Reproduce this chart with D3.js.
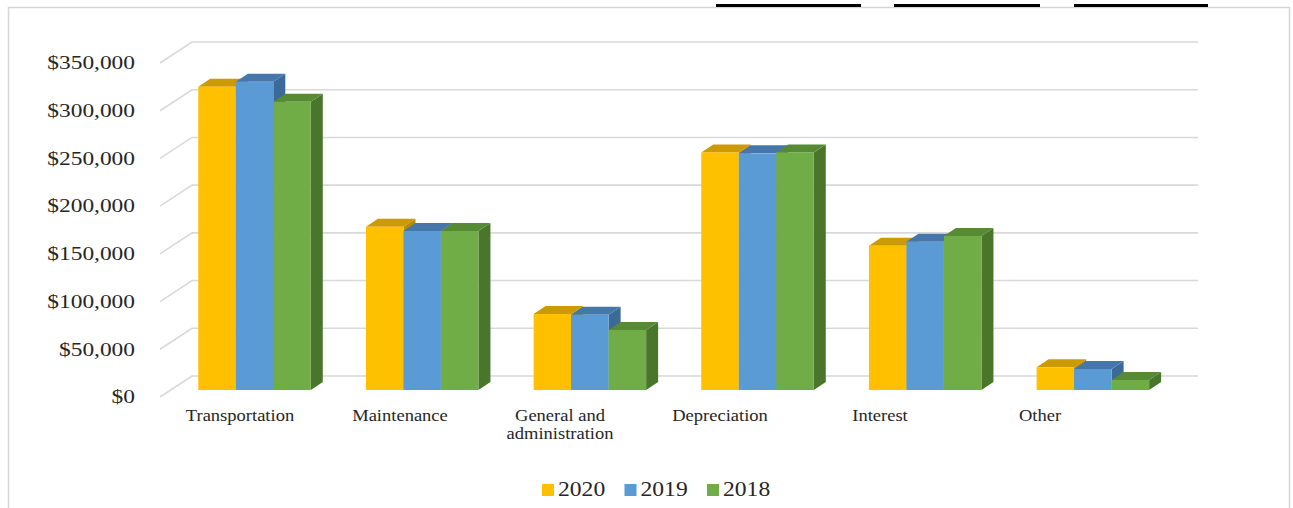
<!DOCTYPE html>
<html>
<head>
<meta charset="utf-8">
<script src="https://cdn.jsdelivr.net/npm/d3@7"></script>
<style>
  html, body { margin: 0; padding: 0; background: #fff; }
  svg { display: block; }
  text { font-family: "Liberation Serif", "Times New Roman", serif; fill: #262626; }
</style>
</head>
<body>
<svg id="chart" width="1293" height="508"></svg>
<script>
// Operating expenses by category, three fiscal years
const categories = ["Transportation", "Maintenance", "General and administration", "Depreciation", "Interest", "Other"];
const categoryLines = [["Transportation"], ["Maintenance"], ["General and", "administration"], ["Depreciation"], ["Interest"], ["Other"]];
const years = ["2020", "2019", "2018"];
const values2020 = [317800, 171000, 79600, 249000, 151200, 23800];
const values2019 = [323000, 166600, 78800, 248000, 155400, 22000];
const values2018 = [302100, 166600, 62900, 249000, 161400, 10500];
const tickValues = [0, 50000, 100000, 150000, 200000, 250000, 300000, 350000];

const seriesValues = { "2020": values2020, "2019": values2019, "2018": values2018 };
const faceColors = {
  "2020": { front: "#FFC000", top: "#CC9A02", side: "#B88A00" },
  "2019": { front: "#5B9BD5", top: "#4577AA", side: "#3C6A98" },
  "2018": { front: "#70AD47", top: "#578A35", side: "#4A762C" }
};

const svg = d3.select("#chart");

// Chart frame
svg.append("rect")
  .attr("x", 8.5).attr("y", 7.5).attr("width", 1281).attr("height", 560)
  .attr("fill", "#fff").attr("stroke", "#D6D6D6").attr("stroke-width", 1.5);

// Dark rules along the top edge
[[716, 861], [894, 1040], [1074, 1208]].forEach(([a, b]) => {
  svg.append("rect").attr("x", a).attr("y", 4).attr("width", b - a).attr("height", 3).attr("fill", "#000");
});

// 3D projection: front-left floor corner and the depth vector of the plot box
const X0 = 160, Y0 = 397, plotW = 1006;
const depth = { dx: 32, dy: -21 };
const barFront = { dx: 10.7, dy: -7 };   // bar front plane inside the box
const barDepth = { dx: 12, dy: -8 };     // bar thickness

const x = d3.scaleBand().domain(categories).range([0, plotW]).paddingInner(0.329).paddingOuter(0.1645);
const xs = d3.scaleBand().domain(years).range([0, x.bandwidth()]);
const h = d3.scaleLinear().domain([0, 350000]).range([0, 334]);

// Gridlines: slanted floor segment + back wall line
const grid = svg.append("g");
tickValues.forEach(t => {
  const y = Y0 - h(t);
  grid.append("polyline")
    .attr("points", [[X0, y], [X0 + depth.dx, y + depth.dy], [X0 + depth.dx + plotW, y + depth.dy]].map(p => p.join(",")).join(" "))
    .attr("fill", "none").attr("stroke", "#D9D9D9").attr("stroke-width", 1.6);
});

// Value axis labels
const fmt = d3.format("$,.0f");
tickValues.forEach(t => {
  svg.append("g").attr("transform", `translate(135,${Y0 - h(t)})`)
    .append("text").attr("transform", "scale(1.3,1)")
    .attr("text-anchor", "end").attr("dy", "0.35em")
    .style("font-size", "18px").text(fmt(t));
});

// Bars, drawn left to right so each bar hides its left neighbour's side face
const bars = svg.append("g");
categories.forEach((c, i) => {
  years.forEach(yr => {
    const v = seriesValues[yr][i];
    const col = faceColors[yr];
    const w = xs.bandwidth();
    const bx = X0 + barFront.dx + x(c) + xs(yr);
    const yb = Y0 + barFront.dy;
    const yt = yb - h(v);
    const dx = barDepth.dx, dy = barDepth.dy;
    const g = bars.append("g");
    g.append("polygon").attr("fill", col.side)
      .attr("points", [[bx + w, yt], [bx + w + dx, yt + dy], [bx + w + dx, yb + dy], [bx + w, yb]].map(p => p.join(",")).join(" "));
    g.append("polygon").attr("fill", col.top)
      .attr("points", [[bx, yt], [bx + w, yt], [bx + w + dx, yt + dy], [bx + dx, yt + dy]].map(p => p.join(",")).join(" "));
    g.append("rect").attr("fill", col.front)
      .attr("x", bx).attr("y", yt).attr("width", w).attr("height", yb - yt);
  });
});

// Category labels
const lx = d3.scalePoint().domain(categories).range([240, 1040]);
categories.forEach((c, i) => {
  categoryLines[i].forEach((line, j) => {
    svg.append("g").attr("transform", `translate(${lx(c)},${421 + j * 18})`)
      .append("text").attr("transform", "scale(1.09,1)")
      .attr("text-anchor", "middle").style("font-size", "17px").text(line);
  });
});

// Legend
const legendX = d3.scalePoint().domain(years).range([542, 707]);
years.forEach(yr => {
  const lg = svg.append("g").attr("transform", `translate(${legendX(yr)},484)`);
  lg.append("rect").attr("width", 12).attr("height", 12).attr("fill", faceColors[yr].front);
  lg.append("g").attr("transform", "translate(16,11.5)")
    .append("text").attr("transform", "scale(1.18,1)").style("font-size", "20px").text(yr);
});
</script>
</body>
</html>
